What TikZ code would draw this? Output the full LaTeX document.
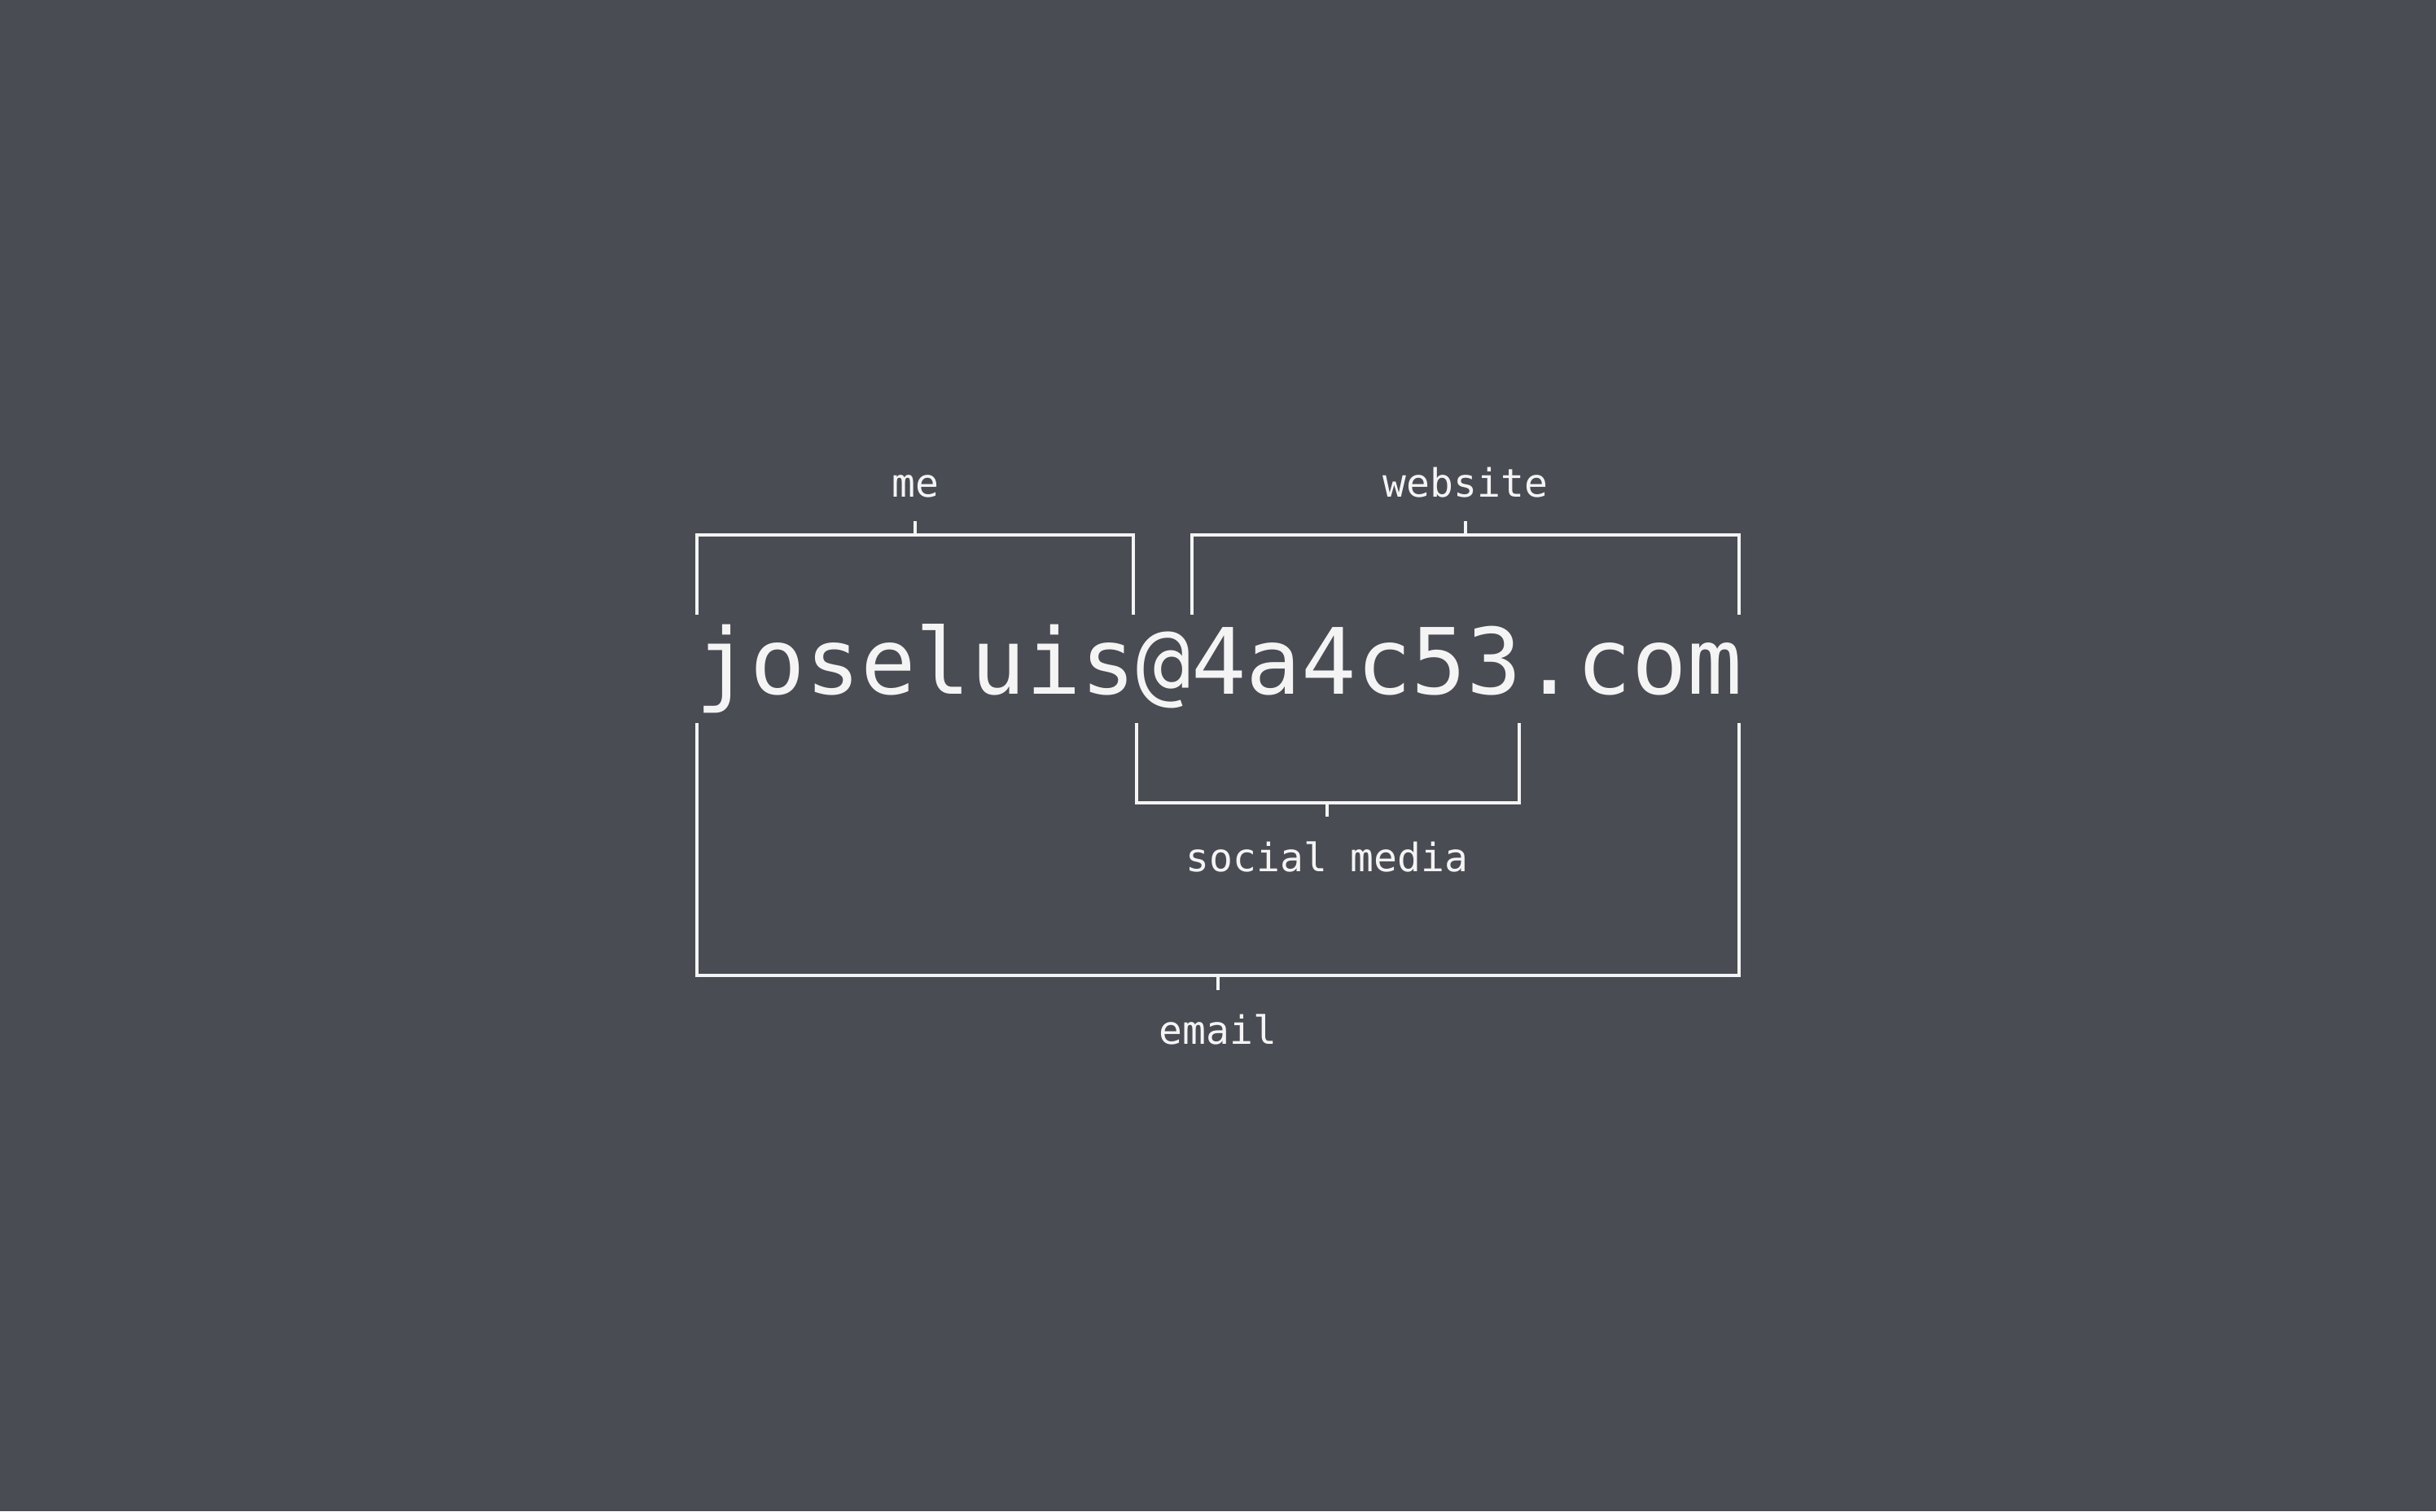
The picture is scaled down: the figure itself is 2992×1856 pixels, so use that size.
\documentclass[tikz,border=0pt]{standalone}
\usepackage{fontspec}
\setmonofont{DejaVu Sans Mono}
\definecolor{bg}{HTML}{4A4C53}
\definecolor{fg}{HTML}{F4F4F4}
\begin{document}
\begin{tikzpicture}[x=0.25pt,y=-0.25pt,
  bracket/.style={draw=fg,line width=1pt,line cap=butt,line join=miter},
  label/.style={text=fg,inner sep=0pt,anchor=base,font=\ttfamily\fontsize{12.0}{14}\selectfont},
  big/.style={text=fg,inner sep=0pt,anchor=base,font=\ttfamily\fontsize{28.1}{34}\selectfont}]
\fill[bg] (0,0) rectangle (2992,1856);
\useasboundingbox (0,0) rectangle (2992,1856);
% main text
\node[big] (addr) at (1497,852) {joseluis@4a4c53.com};
% labels
\node[label] (me) at (1124,610) {me};
\node[label] (web) at (1800,610) {website};
\node[label] (soc) at (1630,1070) {social media};
\node[label] (mail) at (1496,1282) {email};
% me bracket
\draw[bracket] (856,755) -- (856,657) -- (1392,657) -- (1392,755);
\draw[bracket] (1124,657) -- (1124,640);
% website bracket
\draw[bracket] (1464,755) -- (1464,657) -- (2136,657) -- (2136,755);
\draw[bracket] (1800,657) -- (1800,640);
% social media bracket
\draw[bracket] (1396,888) -- (1396,986) -- (1866,986) -- (1866,888);
\draw[bracket] (1630,986) -- (1630,1003);
% email bracket
\draw[bracket] (856,888) -- (856,1198) -- (2136,1198) -- (2136,888);
\draw[bracket] (1496,1198) -- (1496,1216);
\end{tikzpicture}
\end{document}
